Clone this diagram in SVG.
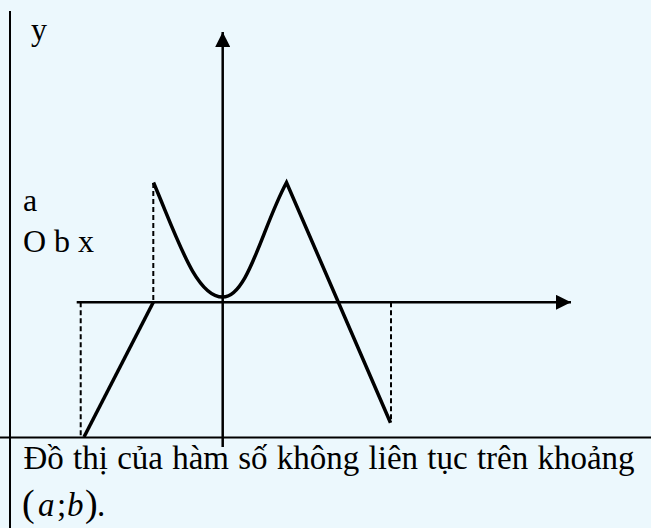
<svg xmlns="http://www.w3.org/2000/svg" width="651" height="528" viewBox="0 0 651 528">
<defs>
<style>
.axis{stroke:#000;stroke-width:2.5;fill:none}
.curve{stroke:#000;stroke-width:3.5;fill:none;stroke-linejoin:miter}
.dash{stroke:#000;stroke-width:2;stroke-dasharray:5 3;fill:none}
.frame{stroke:#000;stroke-width:2;fill:none}
.lbl{font-family:"Liberation Serif","Times New Roman",serif;font-size:32px;fill:#000}
.body{font-family:"Liberation Serif","Times New Roman",serif;font-size:33px;fill:#000}
.it{font-style:italic}
.par{font-size:38px}
</style>
<marker id="arr" viewBox="0 0 10 10" refX="10" refY="5" markerWidth="15" markerHeight="15" markerUnits="userSpaceOnUse" orient="auto">
<path d="M0,0 L10,5 L0,10 Z" fill="#000"/>
</marker>
</defs>
<rect width="651" height="528" fill="#ecf8fd"/>
<g id="frame">
<line class="frame" x1="10" y1="11" x2="10" y2="528"/>
<line class="frame" x1="0" y1="437.5" x2="651" y2="437.5"/>
</g>
<g id="connectors">
<line class="axis" x1="222.7" y1="447" x2="222.7" y2="32" marker-end="url(#arr)"/>
<line class="axis" x1="76.7" y1="302.3" x2="571" y2="302.3" marker-end="url(#arr)"/>
</g>
<g id="graph">
<line class="dash" x1="80.7" y1="302.3" x2="80.7" y2="437"/>
<line class="dash" x1="153.3" y1="183" x2="153.3" y2="302.3"/>
<line class="dash" x1="391" y1="302.3" x2="391" y2="422.5"/>
<polyline class="curve" points="84,437 153.3,302.3"/>
<path class="curve" d="M153.5,182.5 C178,240 196,297 222.7,297 C248,297 262,228 286.5,182.5 L390.5,422.7"/>
</g>
<g id="labels">
<text class="lbl" x="31" y="40">y</text>
<text class="lbl" x="23" y="211">a</text>
<text class="lbl" x="23" y="252">O b x</text>
</g>
<g id="caption">
<text class="body" x="23.5" y="468.5" word-spacing="1">Đồ thị của hàm số không liên tục trên khoảng</text>
<text class="body" y="516"><tspan class="par" x="22">(</tspan><tspan class="it" x="38">a</tspan><tspan x="57">;</tspan><tspan class="it" x="67">b</tspan><tspan class="par" x="85">)</tspan><tspan x="97">.</tspan></text>
</g>
</svg>
